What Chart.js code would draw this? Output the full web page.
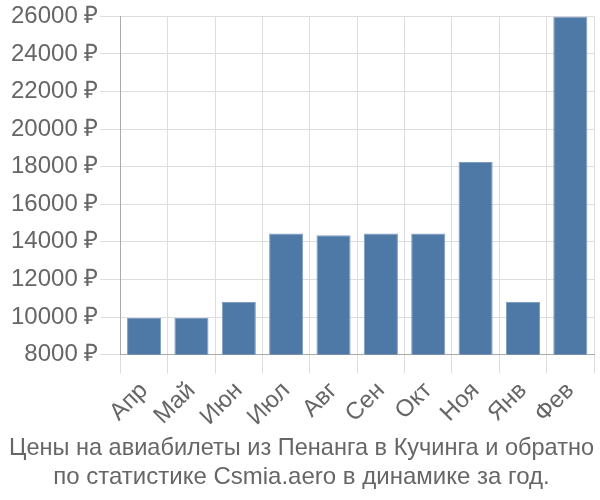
<!DOCTYPE html>
<html><head><meta charset="utf-8">
<script src="https://cdn.jsdelivr.net/npm/chart.js@4/dist/chart.umd.min.js"></script>
<style>html,body{margin:0;padding:0;background:#fff}#w{width:600px;height:500px}</style>
</head><body><div id="w"><canvas id="c"></canvas></div>
<script>
const categories = ["Апр","Май","Июн","Июл","Авг","Сен","Окт","Ноя","Янв","Фев"];
const prices = [9950, 9950, 10800, 14450, 14350, 14450, 14450, 18250, 10800, 26000];
const titleLines = ["Цены на авиабилеты из Пенанга в Кучинга и обратно","по статистике Csmia.aero в динамике за год."];
const yMin = 8000, yMax = 26000, yStep = 2000;

Chart.defaults.font.family = "'Liberation Sans', Arial, sans-serif";
Chart.defaults.color = "#666";
new Chart(document.getElementById("c"), {
  type: "bar",
  data: { labels: categories, datasets: [{ data: prices, backgroundColor: "#4e79a7", borderColor: "#7f9dc0", borderWidth: 1, categoryPercentage: 0.8, barPercentage: 0.9 }] },
  options: {
    responsive: true, maintainAspectRatio: false, animation: false,
    layout: { padding: { left: 9, right: 6, top: 0, bottom: 8 } },
    plugins: {
      legend: { display: false }, tooltip: { enabled: false },
      title: { display: true, position: "bottom", text: titleLines, color: "#666", font: { size: 24, weight: "normal" }, padding: { top: 0, bottom: 0 }, lineHeight: 1.12 }
    },
    scales: {
      x: { grid: { color: "#ddd", tickLength: 19 }, border: { color: "#aaa" }, ticks: { font: { size: 24 }, minRotation: 45, maxRotation: 45, color: "#666" } },
      y: { min: yMin, max: yMax, grid: { color: "#ddd", tickLength: 20 }, border: { color: "#aaa" },
           ticks: { stepSize: yStep, font: { size: 24 }, color: "#666", padding: 2, callback: v => v + " ₽" } }
    }
  }
});
</script></body></html>
